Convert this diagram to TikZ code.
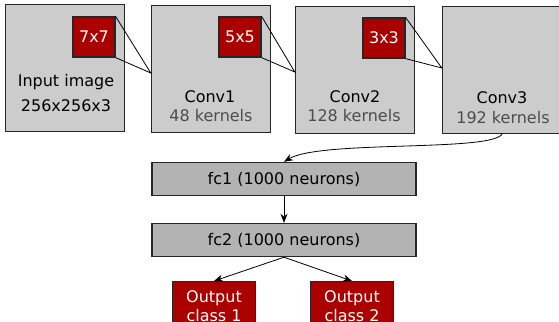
\documentclass[tikz,border=0pt]{standalone}
\usepackage{fontspec}
\setmainfont{DejaVu Sans}
\usetikzlibrary{arrows.meta, positioning, calc}
\definecolor{layergray}{HTML}{CCCCCC}
\definecolor{fcgray}{HTML}{B3B3B3}
\definecolor{kernred}{HTML}{AA0000}
\definecolor{subgray}{HTML}{4D4D4D}

\begin{document}
\begin{tikzpicture}[
  x=1pt, y=-1pt,
  font=\fontsize{16}{19}\selectfont,
  layer/.style={draw=black!85, fill=layergray, line width=1.4pt, minimum width=119pt,
                minimum height=127pt, inner sep=0pt},
  kern/.style={draw=black!85, fill=kernred, line width=1.2pt, text=white,
               minimum width=42pt, minimum height=40pt, inner sep=0pt},
  fc/.style={draw=black!85, fill=fcgray, line width=1.4pt, minimum width=264pt,
             minimum height=33pt, inner sep=0pt},
  outbox/.style={draw=black!85, fill=kernred, line width=1.2pt, text=white, align=center,
                 minimum width=83pt, minimum height=50pt, inner sep=2pt, anchor=north},
  sub/.style={text=subgray},
  zoomline/.style={black, line width=0.8pt},
  arr/.style={-{Stealth[length=9pt, width=7pt]}, line width=0.8pt}
]
\clip (0,0) rectangle (559,321);
\useasboundingbox (0,0) rectangle (559,321);

% conv layers
\node[layer] (input) at (65,68) {};
\node[layer] (conv1) at (211,69) {};
\node[layer] (conv2) at (355,70) {};
\node[layer] (conv3) at (502,70) {};

% kernels
\node[kern] (k1) at (94,37) {7x7};
\node[kern] (k2) at (240,37) {5x5};
\node[kern] (k3) at (384,38) {3x3};

% layer labels
\node (inlbl) at (66,82) {Input image};
\node (insize) at (66,106) {256x256x3};
\node (c1lbl) at (210,97) {Conv1};
\node[sub] (c1k) at (211,116) {48 kernels};
\node (c2lbl) at (355,97) {Conv2};
\node[sub] (c2k) at (354,116) {128 kernels};
\node (c3lbl) at (502,98) {Conv3};
\node[sub] (c3k) at (503,118) {192 kernels};

% receptive field lines
\coordinate (t1) at ($(conv1.west)+(0,4)$);
\coordinate (t2) at ($(conv2.west)+(0,2)$);
\coordinate (t3) at ($(conv3.west)+(0,-2)$);
\draw[zoomline] (k1.north east) -- (t1) -- (k1.south east);
\draw[zoomline] (k2.north east) -- (t2) -- (k2.south east);
\draw[zoomline] (k3.north east) -- (t3) -- (k3.south east);

% fully connected part
\node[fc] (fc1) at (284,179) {fc1 (1000 neurons)};
\node[fc] (fc2) at (284,240) {fc2 (1000 neurons)};
\node[outbox] (out1) at (214,281) {Output\\class 1};
\node[outbox] (out2) at (352,281) {Output\\class 2};

\draw[arr] (conv3.south) .. controls (490,152) and (320,140) .. (fc1.north);
\draw[arr] (fc1) -- (fc2);
\draw[arr] (fc2.south) -- (out1.north);
\draw[arr] (fc2.south) -- (out2.north);
\end{tikzpicture}
\end{document}
